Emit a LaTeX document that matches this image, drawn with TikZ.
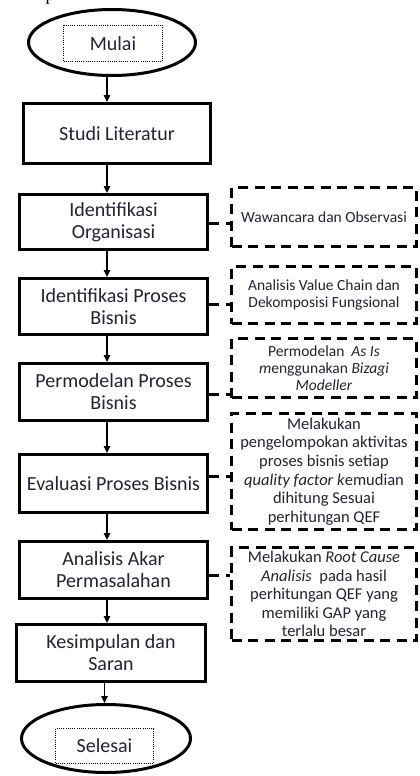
\documentclass[tikz,border=0pt]{standalone}
\usepackage{fontspec}
\setmainfont{Carlito}
\newfontfamily\captionserif{Liberation Serif}
\usetikzlibrary{shapes.geometric,arrows.meta}
\definecolor{ink}{RGB}{34,34,52}

\tikzset{
  stepbox/.style={draw=black, line width=3pt, rectangle, inner sep=0pt,
    text=ink, align=center, font=\fontsize{20}{22}\selectfont},
  terminal/.style={draw=black, line width=3pt, ellipse, inner sep=0pt},
  tag/.style={draw=black, line width=0.8pt, dash pattern=on 1pt off 1.2pt,
    rectangle, inner sep=0pt, text=ink, font=\fontsize{20}{22}\selectfont},
  notebox/.style={draw=black, line width=3pt, dash pattern=on 10pt off 6.5pt,
    rectangle, inner sep=0pt, text=ink, align=center,
    minimum width=185, font=\fontsize{15.5}{16.7}\selectfont},
  notebig/.style={notebox, font=\fontsize{16.5}{18.6}\selectfont},
  flow/.style={line width=1.3pt, -{Triangle[length=7pt,width=6.5pt]}},
  link/.style={line width=3pt, dash pattern=on 10pt off 6.5pt},
}

\begin{document}
\begin{tikzpicture}[x=1pt, y=-1pt]
\useasboundingbox (0,0) rectangle (420,776);

% fragment of the caption line above the chart
\node[anchor=base, inner sep=0pt, font=\captionserif\fontsize{18}{20}\selectfont]
  (capfrag) at (50,0.3) {p};

% start and end terminals
\node[terminal, minimum width=167, minimum height=66] (mulai) at (112,42.5) {};
\node[tag, minimum width=99, minimum height=36] (mulaitxt) at (113,43.5) {Mulai};
\node[terminal, minimum width=169, minimum height=68] (selesai) at (106,738.5) {};
\node[tag, minimum width=98, minimum height=35] (selesaitxt) at (104.5,746) {Selesai};

% process steps
\node[stepbox, minimum width=187, minimum height=60] (studi) at (117,133.5) {Studi Literatur};
\node[stepbox, minimum width=188, minimum height=55] (ident) at (113.5,222) {Identifikasi\\Organisasi};
\node[stepbox, minimum width=188, minimum height=56] (proses) at (113.5,306.5) {Identifikasi Proses\\Bisnis};
\node[stepbox, minimum width=188, minimum height=57] (model) at (113.5,392) {Permodelan Proses\\Bisnis};
\node[stepbox, minimum width=188, minimum height=58] (eval) at (113.5,483.5) {Evaluasi Proses Bisnis};
\node[stepbox, minimum width=188, minimum height=57] (akar) at (113.5,570) {Analisis Akar\\Permasalahan};
\node[stepbox, minimum width=189, minimum height=57] (simpul) at (111,653) {Kesimpulan dan\\Saran};

% annotations
\node[notebox, minimum height=59] (n1) at (324,217) {Wawancara dan Observasi};
\node[notebox, minimum height=57] (n2) at (324,295) {Analisis Value Chain dan\\Dekomposisi Fungsional};
\node[notebox, minimum height=59] (n3) at (324,368)
  {Permodelan \ \textit{As Is}\\\textit{m}enggunakan \textit{Bizagi}\\\textit{Modeller}};
\node[notebig, minimum height=116] (n4) at (324,471.5)
  {Melakukan\\pengelompokan aktivitas\\proses bisnis setiap\\\textit{quality factor k}emudian\\dihitung Sesuai\\perhitungan QEF};
\node[notebig, minimum height=93] (n5) at (324,594)
  {Melakukan \textit{Root Cause}\\\textit{Analisis} \ pada hasil\\perhitungan QEF yang\\memiliki GAP yang\\terlalu besar};

% main flow
\coordinate (axis) at (107,0);
\coordinate (axisend) at (104.5,0);
\draw[flow] (mulai.south -| axis) -- (studi.north -| axis);
\draw[flow] (studi.south -| axis) -- (ident.north -| axis);
\draw[flow] (ident.south -| axis) -- (proses.north -| axis);
\draw[flow] (proses.south -| axis) -- (model.north -| axis);
\draw[flow] (model.south -| axis) -- (eval.north -| axis);
\draw[flow] (eval.south -| axis) -- (akar.north -| axis);
\draw[flow] (akar.south -| axis) -- (simpul.north -| axis);
\draw[flow] (simpul.south -| axisend) -- (selesai.north -| axisend);

% links to annotations
\coordinate (k1) at (230,223);
\coordinate (k2) at (230,304);
\coordinate (k3) at (230,394);
\coordinate (k4) at (230,476);
\coordinate (k5) at (230,575);
\draw[link] (k1 -| ident.east) -- (k1 -| n1.west);
\draw[link] (k2 -| proses.east) -- (k2 -| n2.west);
\draw[link] (k3 -| model.east) -- (k3 -| n3.west);
\draw[link] (k4 -| eval.east) -- (k4 -| n4.west);
\draw[link] (k5 -| akar.east) -- (k5 -| n5.west);
\end{tikzpicture}
\end{document}
